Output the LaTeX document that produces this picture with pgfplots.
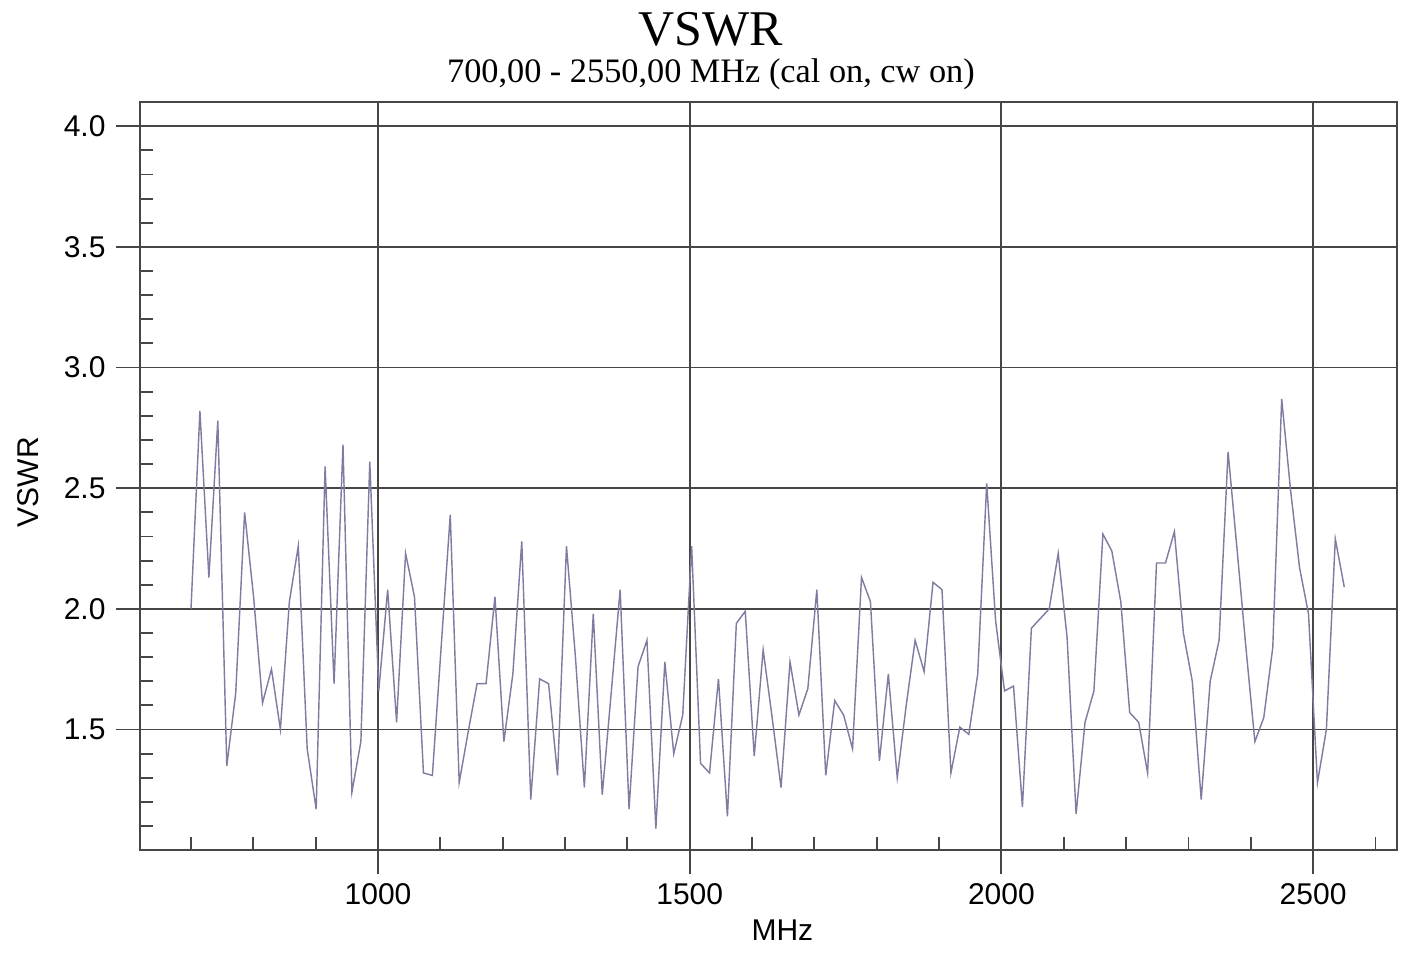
\documentclass[border=0pt]{standalone}
\usepackage{pgfplots}
\pgfplotsset{compat=1.18}
\usepackage{fontspec}
\setmainfont{Liberation Sans}
\newfontfamily\titlefont{Liberation Serif}

\definecolor{gridgray}{RGB}{70,70,70}
\definecolor{traceblue}{RGB}{125,125,162}

\begin{document}
\begin{tikzpicture}
\begin{axis}[
    scale only axis,
    width=440pt, height=261.8pt,
    xmin=618, xmax=2635,
    ymin=1, ymax=4.1,
    clip=false,
    axis line style={gridgray, line width=0.65pt},
    grid=major,
    major grid style={gridgray, line width=0.65pt},
    xtick={1000,1500,2000,2500},
    ytick={1.5,2.0,2.5,3.0,3.5,4.0},
    tick align=outside,
    major tick length=8.5pt,
    tick style={gridgray, line width=0.65pt},
    xtick pos=bottom, ytick pos=left,
    extra x ticks={700,800,900,1100,1200,1300,1400,1600,1700,1800,1900,2100,2200,2300,2400,2600},
    extra x tick labels={},
    extra x tick style={grid=none, tick align=inside, major tick length=4.5pt},
    extra y ticks={1.1,1.2,1.3,1.4,1.6,1.7,1.8,1.9,2.1,2.2,2.3,2.4,2.6,2.7,2.8,2.9,3.1,3.2,3.3,3.4,3.6,3.7,3.8,3.9,4.1},
    extra y tick labels={},
    extra y tick style={grid=none, tick align=inside, major tick length=4.5pt},
    /pgf/number format/assume math mode=true,
    xticklabel style={font=\fontsize{10.5}{12}\selectfont, yshift=0.5pt, /pgf/number format/set thousands separator={}},
    yticklabel style={font=\fontsize{10.5}{12}\selectfont, /pgf/number format/fixed, /pgf/number format/fixed zerofill, /pgf/number format/precision=1},
    xlabel={MHz}, ylabel={VSWR},
    label style={font=\fontsize{10.5}{12}\selectfont},
    xlabel style={at={(axis description cs:0.511,-0.107)}, anchor=center},
    ylabel style={at={(axis description cs:-0.089,0.492)}, anchor=center, rotate=0},
]
\addplot[traceblue, line width=0.5pt, mark=none] coordinates {
(700.0,2.00) (714.3,2.82) (728.7,2.13) (743.0,2.78) (757.4,1.35)
(771.7,1.65) (786.0,2.40) (800.4,2.05) (814.7,1.61) (829.1,1.75)
(843.4,1.50) (857.8,2.03) (872.1,2.26) (886.4,1.42) (900.8,1.17)
(915.1,2.59) (929.5,1.69) (943.8,2.68) (958.1,1.24) (972.5,1.45)
(986.8,2.61) (1001.2,1.66) (1015.5,2.08) (1029.8,1.53) (1044.2,2.23)
(1058.5,2.05) (1072.9,1.32) (1087.2,1.31) (1101.5,1.85) (1115.9,2.39)
(1130.2,1.28) (1144.6,1.49) (1158.9,1.69) (1173.3,1.69) (1187.6,2.05)
(1201.9,1.45) (1216.3,1.73) (1230.6,2.28) (1245.0,1.21) (1259.3,1.71)
(1273.6,1.69) (1288.0,1.31) (1302.3,2.26) (1316.7,1.80) (1331.0,1.26)
(1345.3,1.98) (1359.7,1.23) (1374.0,1.65) (1388.4,2.08) (1402.7,1.17)
(1417.1,1.76) (1431.4,1.87) (1445.7,1.09) (1460.1,1.78) (1474.4,1.40)
(1488.8,1.56) (1503.1,2.26) (1517.4,1.36) (1531.8,1.32) (1546.1,1.71)
(1560.5,1.14) (1574.8,1.94) (1589.1,1.99) (1603.5,1.39) (1617.8,1.83)
(1632.2,1.55) (1646.5,1.26) (1660.9,1.78) (1675.2,1.56) (1689.5,1.67)
(1703.9,2.08) (1718.2,1.31) (1732.6,1.62) (1746.9,1.56) (1761.2,1.42)
(1775.6,2.13) (1789.9,2.03) (1804.3,1.37) (1818.6,1.73) (1832.9,1.30)
(1847.3,1.60) (1861.6,1.87) (1876.0,1.74) (1890.3,2.11) (1904.7,2.08)
(1919.0,1.32) (1933.3,1.51) (1947.7,1.48) (1962.0,1.73) (1976.4,2.52)
(1990.7,1.95) (2005.0,1.66) (2019.4,1.68) (2033.7,1.18) (2048.1,1.92)
(2062.4,1.96) (2076.7,2.00) (2091.1,2.23) (2105.4,1.88) (2119.8,1.15)
(2134.1,1.53) (2148.4,1.66) (2162.8,2.31) (2177.1,2.24) (2191.5,2.03)
(2205.8,1.57) (2220.2,1.53) (2234.5,1.32) (2248.8,2.19) (2263.2,2.19)
(2277.5,2.32) (2291.9,1.90) (2306.2,1.70) (2320.5,1.21) (2334.9,1.70)
(2349.2,1.87) (2363.6,2.65) (2377.9,2.25) (2392.2,1.84) (2406.6,1.45)
(2420.9,1.55) (2435.3,1.84) (2449.6,2.87) (2463.9,2.49) (2478.3,2.17)
(2492.6,1.98) (2507.0,1.28) (2521.3,1.50) (2535.6,2.29) (2550.0,2.09)
};
\node[inner sep=0pt, font=\titlefont\fontsize{17.5}{20}\selectfont] at (axis cs:1534,4.40) {VSWR};
\node[inner sep=0pt, font=\titlefont\fontsize{12}{14}\selectfont] at (axis cs:1534,4.214) {700,00 - 2550,00 MHz (cal on, cw on)};
\path (axis cs:393.6,0.5615) rectangle (axis cs:2676.3,4.523);
\end{axis}
\end{tikzpicture}
\end{document}
